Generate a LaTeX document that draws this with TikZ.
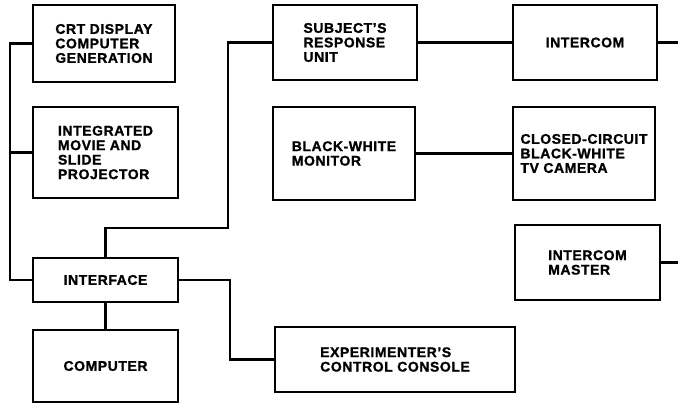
\documentclass[tikz,border=0pt]{standalone}
\usepackage{fontspec}
\setmainfont{Liberation Sans}[LetterSpace=4,BoldFeatures={FakeBold=1.2}]
\begin{document}
\begin{tikzpicture}[x=1pt,y=-1pt,
  blk/.style={draw,line width=2.2pt,inner sep=0pt,align=left,
    font=\bfseries\fontsize{14}{14.5}\selectfont},
  wire/.style={line width=2.6pt}]
\useasboundingbox (0,0) rectangle (678,403);
\node[blk,minimum width=142pt,minimum height=77pt] (crt) at (104,43.5) {CRT DISPLAY\\COMPUTER\\GENERATION};
\node[blk,minimum width=145pt,minimum height=91pt] (proj) at (105.5,152.5) {INTEGRATED\\MOVIE AND\\SLIDE\\PROJECTOR};
\node[blk,minimum width=145pt,minimum height=44pt] (iface) at (105.5,280) {INTERFACE};
\node[blk,minimum width=145pt,minimum height=72pt] (comp) at (105.5,366) {COMPUTER};
\node[blk,minimum width=144pt,minimum height=75pt] (subj) at (345,42.5) {SUBJECT'S\\RESPONSE\\UNIT};
\node[blk,minimum width=142pt,minimum height=93pt] (mon) at (344,153.5) {BLACK-WHITE\\MONITOR};
\node[blk,minimum width=144pt,minimum height=75pt] (icom) at (585,42.5) {INTERCOM};
\node[blk,minimum width=142pt,minimum height=93pt] (cctv) at (584,153.5) {CLOSED-CIRCUIT\\BLACK-WHITE\\TV CAMERA};
\node[blk,minimum width=145pt,minimum height=75pt] (imaster) at (587.5,262.5) {INTERCOM\\MASTER};
\node[blk,minimum width=240pt,minimum height=65pt] (console) at (395,359.5) {EXPERIMENTER'S\\CONTROL CONSOLE};
\coordinate (bustop) at (10,43.5);
\coordinate (busproj) at (10,152.5);
\coordinate (subjturn) at (228,228);
\coordinate (ifaceup) at (105.5,228);
\coordinate (consturn) at (230,280);
\coordinate (icomout) at (678,42.5);
\coordinate (imout) at (678,262.5);
\draw[wire] (crt.west) -- (bustop) |- (iface.west);
\draw[wire] (proj.west) -- (busproj);
\draw[wire] (subj.west) -| (subjturn) -- (ifaceup) -- (iface.north);
\draw[wire] (iface.east) -- (consturn) |- (console.west);
\draw[wire] (iface.south) -- (comp.north);
\draw[wire] (subj.east) -- (icom.west);
\draw[wire] (icom.east) -- (icomout);
\draw[wire] (mon.east) -- (cctv.west);
\draw[wire] (imaster.east) -- (imout);
\end{tikzpicture}
\end{document}
